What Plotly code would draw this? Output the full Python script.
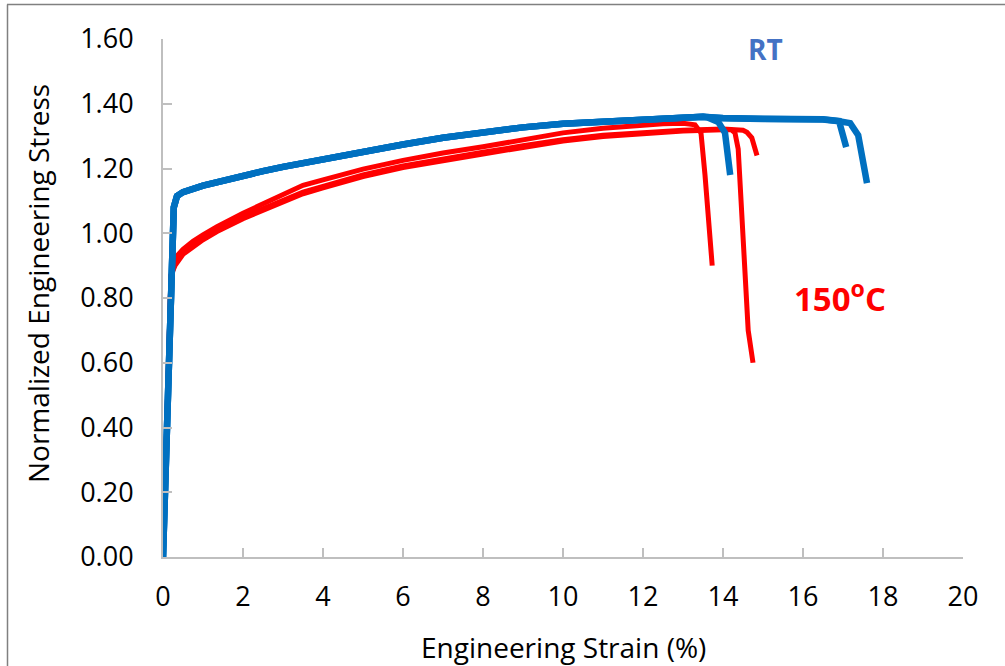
import plotly.graph_objects as go

# ---- Tensile curves: engineering strain (%) vs normalized engineering stress ----
# Room temperature specimens
rt_base_strain = [0, 0.12, 0.22, 0.27, 0.35, 0.5, 1.0, 1.5, 2.0, 2.5, 3.0, 3.5, 4.0, 5.0,
                  6.0, 7.0, 8.0, 9.0, 10.0, 11.0, 12.0, 13.0, 13.5]
rt_base_stress = [0, 0.52, 0.96, 1.08, 1.115, 1.127, 1.147, 1.163, 1.178, 1.192, 1.205, 1.217,
                  1.229, 1.252, 1.274, 1.295, 1.313, 1.327, 1.338, 1.346, 1.352, 1.357, 1.36]

rt1_strain = rt_base_strain + [13.6, 13.88, 14.05, 14.18]
rt1_stress = rt_base_stress + [1.358, 1.344, 1.31, 1.18]

rt2_strain = rt_base_strain + [14.0, 15.0, 16.0, 16.5, 16.9, 17.0, 17.08]
rt2_stress = rt_base_stress + [1.356, 1.354, 1.353, 1.352, 1.347, 1.31, 1.266]

rt3_strain = rt_base_strain + [14.0, 15.0, 16.0, 16.5, 16.9, 17.18, 17.38, 17.6]
rt3_stress = rt_base_stress + [1.355, 1.353, 1.352, 1.351, 1.346, 1.34, 1.303, 1.155]

# 150 °C specimens
ht1_strain = [0, 0.1, 0.2, 0.25, 0.35, 0.5, 0.75, 1.0, 1.35, 2.0, 2.5, 3.0, 3.5, 4.0, 5.0,
              6.0, 7.0, 8.0, 9.0, 10.0, 11.0, 12.0, 12.5, 13.0, 13.3, 13.45, 13.55, 13.73]
ht1_stress = [0, 0.43, 0.87, 0.905, 0.93, 0.95, 0.975, 0.995, 1.02, 1.062, 1.09, 1.118, 1.148,
              1.165, 1.198, 1.225, 1.248, 1.267, 1.29, 1.31, 1.324, 1.334, 1.338, 1.34, 1.335,
              1.31, 1.18, 0.90]

ht2_strain = [0, 0.1, 0.2, 0.3, 0.5, 1.0, 1.35, 2.0, 3.0, 3.5, 4.0, 5.0, 6.0, 7.0, 7.6, 8.0,
              9.0, 10.0, 11.0, 12.0, 13.0, 14.0, 14.2, 14.3, 14.38, 14.63, 14.75]
ht2_stress = [0, 0.43, 0.87, 0.9, 0.935, 0.98, 1.005, 1.045, 1.095, 1.122, 1.14, 1.175,
              1.203, 1.225, 1.235, 1.245, 1.265, 1.285, 1.299, 1.309, 1.316, 1.32, 1.32, 1.31,
              1.26, 0.70, 0.60]

ht3_strain = [0, 0.1, 0.2, 0.3, 0.5, 1.0, 1.35, 2.0, 3.0, 3.5, 4.0, 5.0, 6.0, 7.0, 7.6, 8.0,
              9.0, 10.0, 11.0, 12.0, 13.0, 14.0, 14.5, 14.6, 14.72, 14.85]
ht3_stress = [0, 0.43, 0.87, 0.905, 0.94, 0.985, 1.01, 1.05, 1.1, 1.127, 1.145, 1.18, 1.208,
              1.23, 1.24, 1.25, 1.27, 1.289, 1.303, 1.312, 1.318, 1.322, 1.318, 1.312, 1.295,
              1.24]

x_ticks = [0, 2, 4, 6, 8, 10, 12, 14, 16, 18, 20]
y_ticks = [0.0, 0.2, 0.4, 0.6, 0.8, 1.0, 1.2, 1.4, 1.6]

BLUE = "#0070C0"
RED = "#FF0000"
FONT = "Open Sans"

fig = go.Figure()

for xs, ys in [(ht1_strain, ht1_stress), (ht2_strain, ht2_stress), (ht3_strain, ht3_stress)]:
    fig.add_trace(go.Scatter(x=xs, y=ys, mode="lines",
                             line=dict(color=RED, width=5), showlegend=False))

for xs, ys in [(rt1_strain, rt1_stress), (rt2_strain, rt2_stress), (rt3_strain, rt3_stress)]:
    fig.add_trace(go.Scatter(x=xs, y=ys, mode="lines",
                             line=dict(color=BLUE, width=6.5), showlegend=False))

# plot area spans 163..963 px horizontally and 39..557 px vertically
L, R, T, B = 163, 42, 39, 109
W, H = 1005, 666
pw, ph = W - L - R, H - T - B


def px(xp):
    return (xp - L) / pw


def py(yp):
    return (H - B - yp) / ph


axis_common = dict(showgrid=False, zeroline=False, showline=True, linecolor="#BFBFBF",
                   linewidth=2, ticks="inside", ticklen=9, tickwidth=2, tickcolor="#BFBFBF",
                   tickfont=dict(family=FONT, size=27, color="#000000"))

fig.update_xaxes(range=[0, 20], tickvals=x_ticks, ticktext=[str(v) for v in x_ticks],
                 ticklabelstandoff=15, **axis_common)
fig.update_yaxes(range=[0, 1.6], tickvals=y_ticks, ticktext=[f"{v:.2f}" for v in y_ticks],
                 ticklabelstandoff=22, **axis_common)


def label(text, xp, yp, size, color, **kw):
    return dict(text=text, x=px(xp), y=py(yp), xref="paper", yref="paper",
                xanchor="center", yanchor="middle", showarrow=False,
                font=dict(family=FONT, size=size, color=color), **kw)


annotations = [
    label("Engineering Strain (%)", 563, 647, 28, "#000000"),
    label("Normalized Engineering Stress", 38, 284, 28, "#000000", textangle=-90),
    label("<b>RT</b>", 765, 49, 28, "#4472C4"),
    label("<b>150<sup>o</sup>C</b>", 840, 296, 33, RED),
]

# frame lines along the top and left edges of the figure
shapes = [
    dict(type="line", xref="paper", yref="paper", x0=px(7), x1=px(1010), y0=py(4.5), y1=py(4.5),
         line=dict(color="#808080", width=1.5)),
    dict(type="line", xref="paper", yref="paper", x0=px(7.5), x1=px(7.5), y0=py(4.5), y1=py(670),
         line=dict(color="#808080", width=1.5)),
]

fig.update_layout(width=W, height=H, margin=dict(l=L, r=R, t=T, b=B),
                  paper_bgcolor="white", plot_bgcolor="white",
                  annotations=annotations, shapes=shapes)

fig.write_html("out.html")
